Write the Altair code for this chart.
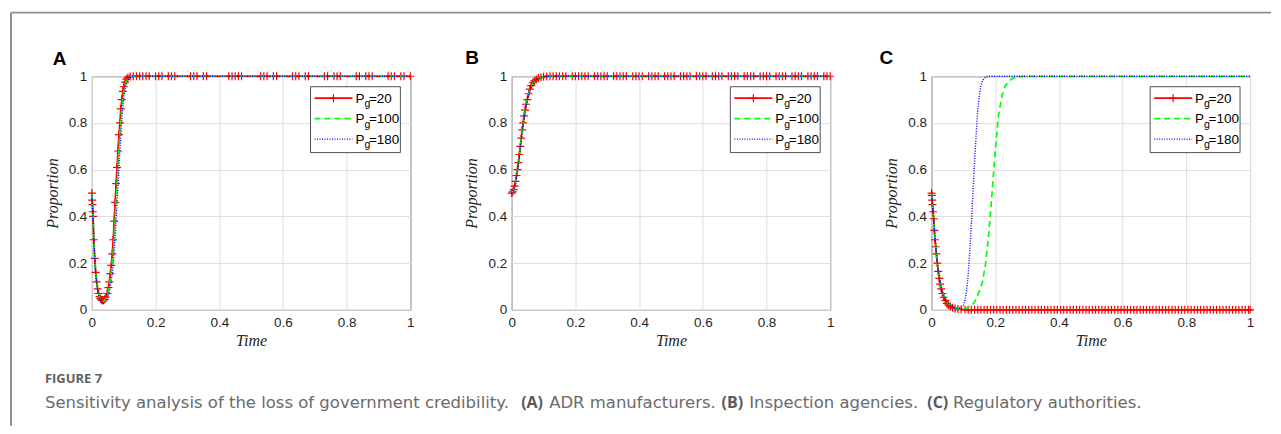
import altair as alt
import pandas as pd

# ---------------- data ----------------
TICKS = [0, 0.2, 0.4, 0.6, 0.8, 1]
LEGEND_LABELS = ["=20", "=100", "=180"]
PANEL_LETTERS = ["A", "B", "C"]
CAPTION_HEAD = "FIGURE 7"
CAPTION_PARTS = [
    ("Sensitivity analysis of the loss of government credibility.", "normal"),
    ("(A)", "bold"),
    ("ADR manufacturers.", "normal"),
    ("(B)", "bold"),
    ("Inspection agencies.", "normal"),
    ("(C)", "bold"),
    ("Regulatory authorities.", "normal"),
]

# Panel A
A_RED_T = [0, 0.001, 0.002, 0.003, 0.004, 0.006, 0.009, 0.012, 0.015, 0.018, 0.021, 0.024, 0.027,
           0.030, 0.033, 0.036, 0.040, 0.044, 0.048, 0.052, 0.055, 0.058, 0.061, 0.064, 0.067, 0.070,
           0.073, 0.076, 0.079, 0.082, 0.085, 0.088, 0.091, 0.094, 0.097, 0.100, 0.104, 0.108, 0.113,
           0.120, 0.130]
A_RED_Y = [0.50, 0.47, 0.45, 0.42, 0.40, 0.30, 0.22, 0.16, 0.12, 0.09, 0.07, 0.057, 0.048,
           0.043, 0.040, 0.041, 0.045, 0.055, 0.07, 0.095, 0.12, 0.155, 0.19, 0.24, 0.30, 0.38,
           0.46, 0.54, 0.61, 0.68, 0.75, 0.80, 0.86, 0.90, 0.935, 0.955, 0.975, 0.988, 0.995,
           0.999, 1.0]
A_RED_PLATEAU_T = [0.14, 0.15, 0.16, 0.17, 0.18, 0.20, 0.21, 0.22, 0.24, 0.25, 0.26, 0.31, 0.32,
                   0.33, 0.35, 0.36, 0.43, 0.44, 0.45, 0.46, 0.47, 0.53, 0.54, 0.55, 0.57, 0.58,
                   0.63, 0.64, 0.65, 0.67, 0.68, 0.73, 0.74, 0.76, 0.77, 0.78, 0.83, 0.84, 0.86,
                   0.87, 0.88, 0.93, 0.94, 0.95, 0.97, 0.98, 1.0]
A_RED_PLATEAU_V = 1.0
A_GREEN_T = [0, 0.004, 0.008, 0.012, 0.016, 0.020, 0.024, 0.028, 0.032, 0.036, 0.040, 0.044, 0.048,
             0.052, 0.056, 0.060, 0.064, 0.068, 0.072, 0.076, 0.080, 0.084, 0.088, 0.092, 0.096,
             0.100, 0.105, 0.110, 0.116, 0.124, 0.135, 1.0]
A_GREEN_Y = [0.50, 0.38, 0.25, 0.16, 0.11, 0.075, 0.055, 0.043, 0.037, 0.036, 0.039, 0.047, 0.06,
             0.08, 0.11, 0.15, 0.20, 0.27, 0.36, 0.46, 0.56, 0.66, 0.75, 0.83, 0.89,
             0.93, 0.965, 0.983, 0.993, 0.998, 1.0, 1.0]
A_BLUE_T = [0, 0.004, 0.008, 0.012, 0.016, 0.020, 0.024, 0.028, 0.032, 0.036, 0.040, 0.044, 0.048,
            0.052, 0.056, 0.060, 0.064, 0.068, 0.072, 0.076, 0.080, 0.084, 0.088, 0.092, 0.096,
            0.100, 0.105, 0.110, 0.116, 0.124, 0.135, 1.0]
A_BLUE_Y = [0.50, 0.37, 0.24, 0.15, 0.10, 0.068, 0.048, 0.036, 0.030, 0.028, 0.030, 0.036, 0.046,
            0.062, 0.085, 0.115, 0.155, 0.21, 0.29, 0.38, 0.48, 0.58, 0.68, 0.77, 0.85,
            0.91, 0.95, 0.975, 0.99, 0.997, 1.0, 1.0]

# Panel B
B_RED_T = [0, 0.003, 0.006, 0.009, 0.012, 0.015, 0.018, 0.021, 0.024, 0.027, 0.030, 0.033, 0.036,
           0.039, 0.042, 0.045, 0.049, 0.053, 0.057, 0.061, 0.066, 0.071, 0.077, 0.084, 0.092,
           0.100, 0.110, 0.120]
B_RED_Y = [0.50, 0.505, 0.515, 0.53, 0.55, 0.575, 0.60, 0.63, 0.665, 0.70, 0.735, 0.77, 0.80,
           0.83, 0.855, 0.88, 0.90, 0.925, 0.945, 0.96, 0.972, 0.98, 0.987, 0.992, 0.996,
           0.998, 0.999, 1.0]
B_RED_PLATEAU_T = [0.13, 0.14, 0.15, 0.16, 0.17, 0.19, 0.20, 0.21, 0.22, 0.23, 0.24, 0.26, 0.27,
                   0.28, 0.29, 0.30, 0.32, 0.33, 0.34, 0.35, 0.36, 0.38, 0.39, 0.40, 0.41, 0.43,
                   0.44, 0.45, 0.46, 0.48, 0.49, 0.50, 0.51, 0.53, 0.54, 0.55, 0.56, 0.58, 0.59,
                   0.60, 0.61, 0.63, 0.64, 0.65, 0.66, 0.68, 0.69, 0.70, 0.71, 0.73, 0.74, 0.75,
                   0.76, 0.78, 0.79, 0.80, 0.81, 0.83, 0.84, 0.85, 0.86, 0.88, 0.89, 0.90, 0.91,
                   0.93, 0.94, 0.95, 0.96, 0.98, 0.99, 1.0]
B_RED_PLATEAU_V = 1.0
B_GREEN_T = [0, 0.006, 0.012, 0.018, 0.024, 0.030, 0.036, 0.042, 0.048, 0.054, 0.060, 0.068,
             0.076, 0.086, 0.098, 0.115, 1.0]
B_GREEN_Y = [0.50, 0.51, 0.545, 0.595, 0.66, 0.73, 0.795, 0.85, 0.895, 0.928, 0.952, 0.972,
             0.985, 0.993, 0.997, 1.0, 1.0]
B_BLUE_T = [0, 0.006, 0.012, 0.018, 0.024, 0.030, 0.036, 0.042, 0.048, 0.054, 0.060, 0.068,
            0.076, 0.086, 0.098, 0.115, 1.0]
B_BLUE_Y = [0.50, 0.51, 0.54, 0.59, 0.655, 0.725, 0.79, 0.845, 0.89, 0.925, 0.95, 0.97,
            0.984, 0.992, 0.997, 1.0, 1.0]

# Panel C
C_RED_T = [0, 0.001, 0.002, 0.003, 0.005, 0.007, 0.009, 0.011, 0.013, 0.015, 0.018, 0.021, 0.024,
           0.027, 0.030, 0.034, 0.038, 0.043, 0.048, 0.053, 0.059, 0.066, 0.074, 0.083, 0.093,
           0.105]
C_RED_Y = [0.50, 0.49, 0.47, 0.45, 0.42, 0.39, 0.34, 0.30, 0.27, 0.24, 0.20, 0.165, 0.135,
           0.11, 0.09, 0.07, 0.054, 0.04, 0.028, 0.02, 0.014, 0.009, 0.006, 0.004, 0.002,
           0.001]
C_RED_PLATEAU_T = [0.115, 0.125, 0.135, 0.145, 0.155, 0.165, 0.175, 0.185, 0.195, 0.205, 0.215,
                   0.225, 0.235, 0.245, 0.255, 0.265, 0.275, 0.285, 0.295, 0.305, 0.315, 0.325,
                   0.335, 0.345, 0.355, 0.365, 0.375, 0.385, 0.395, 0.405, 0.415, 0.425, 0.435,
                   0.445, 0.455, 0.465, 0.475, 0.485, 0.495, 0.505, 0.515, 0.525, 0.535, 0.545,
                   0.555, 0.565, 0.575, 0.585, 0.595, 0.605, 0.615, 0.625, 0.635, 0.645, 0.655,
                   0.665, 0.675, 0.685, 0.695, 0.705, 0.715, 0.725, 0.735, 0.745, 0.755, 0.765,
                   0.775, 0.785, 0.795, 0.805, 0.815, 0.825, 0.835, 0.845, 0.855, 0.865, 0.875,
                   0.885, 0.895, 0.905, 0.915, 0.925, 0.935, 0.945, 0.955, 0.965, 0.975, 0.985,
                   0.995, 1.0]
C_RED_PLATEAU_V = 0.0
C_GREEN_T = [0, 0.01, 0.02, 0.03, 0.04, 0.05, 0.06, 0.07, 0.08, 0.09, 0.10, 0.11, 0.12, 0.13,
             0.14, 0.15, 0.16, 0.17, 0.18, 0.19, 0.20, 0.21, 0.22, 0.23, 0.24, 0.25, 0.26,
             0.275, 0.29, 1.0]
C_GREEN_Y = [0.50, 0.32, 0.18, 0.10, 0.055, 0.03, 0.017, 0.01, 0.006, 0.005, 0.006, 0.009,
             0.013, 0.025, 0.045, 0.08, 0.12, 0.20, 0.33, 0.50, 0.68, 0.83, 0.91, 0.955, 0.975,
             0.987, 0.993, 0.997, 1.0, 1.0]
C_BLUE_T = [0, 0.01, 0.02, 0.03, 0.04, 0.05, 0.06, 0.07, 0.08, 0.09, 0.10, 0.105, 0.11, 0.115,
            0.12, 0.125, 0.13, 0.135, 0.14, 0.145, 0.15, 0.155, 0.16, 0.165, 0.17, 0.18, 1.0]
C_BLUE_Y = [0.50, 0.32, 0.18, 0.10, 0.055, 0.03, 0.017, 0.01, 0.007, 0.008, 0.02, 0.04, 0.08,
            0.15, 0.25, 0.37, 0.50, 0.63, 0.75, 0.85, 0.92, 0.96, 0.98, 0.99, 0.997, 1.0, 1.0]

# ---------------- styling ----------------
RED, GREEN, BLUE = "#ff0000", "#00ff00", "#0000ff"
PLUS = "M-1,0H1M0,-1V1"
W, H = 319, 234
TICK_FONT = "Liberation Sans"
TITLE_FONT = "Liberation Serif"
CAP_FONT = "DejaVu Sans"
CAP_BOLD_FONT = "Open Sans"
ONE = pd.DataFrame({"k": [0]})


def axis(title, label_pad, title_pad):
    return alt.Axis(
        values=TICKS, format=".1~f", title=title,
        labelFlush=False, labelOverlap=False,
        grid=True, gridColor="#dedede", gridWidth=1, domain=False, ticks=False,
        labelFont=TICK_FONT, labelFontSize=13.5, labelColor="#1f1f1f", labelPadding=label_pad,
        titleFont=TITLE_FONT, titleFontStyle="italic", titleFontWeight="normal",
        titleFontSize=16, titleColor="#1f1f1f", titlePadding=title_pad,
    )


def xenc():
    return alt.X("t:Q", scale=alt.Scale(domain=[0, 1], nice=False, zero=False),
                 axis=axis("Time", 6, 3))


def yenc():
    return alt.Y("v:Q", scale=alt.Scale(domain=[0, 1], nice=False, zero=False),
                 axis=axis("Proportion", 5, 8))


def text_mark(txt, x, y, size, weight="normal", font=TICK_FONT, color="#000000",
              style="normal", align="left"):
    return alt.Chart(ONE).mark_text(
        text=txt, font=font, fontSize=size, fontWeight=weight, fontStyle=style,
        color=color, align=align, baseline="alphabetic"
    ).encode(x=alt.value(x), y=alt.value(y))


def panel(red_t, red_y, plat_t, plat_v, green_t, green_y, blue_t, blue_y,
          letter, letter_x, letter_y, extra=None):
    red_df = pd.DataFrame({"t": red_t + plat_t, "v": red_y + [plat_v] * len(plat_t)})
    green_df = pd.DataFrame({"t": green_t, "v": green_y})
    blue_df = pd.DataFrame({"t": blue_t, "v": blue_y})

    red_line = alt.Chart(red_df).mark_line(color=RED, strokeWidth=1.7).encode(x=xenc(), y=yenc())
    red_pts = alt.Chart(red_df).mark_point(
        shape=PLUS, color=RED, filled=False, size=64, strokeWidth=1.2, opacity=1
    ).encode(x="t:Q", y="v:Q")
    green_line = alt.Chart(green_df).mark_line(
        color=GREEN, strokeWidth=1.7, strokeDash=[6, 4]).encode(x="t:Q", y="v:Q")
    blue_line = alt.Chart(blue_df).mark_line(
        color=BLUE, strokeWidth=1.4, strokeDash=[1, 1.5]).encode(x="t:Q", y="v:Q")

    layers = [red_line, red_pts, green_line, blue_line]

    # legend (MATLAB-style box inside the axes)
    lx0, lx1, ly0, ly1 = 219, 309, 10.5, 76.5
    rows = [22, 42.5, 63]
    layers.append(alt.Chart(ONE).mark_rect(fill="white", stroke="#262626", strokeWidth=0.8).encode(
        x=alt.value(lx0), x2=alt.value(lx1), y=alt.value(ly0), y2=alt.value(ly1)))
    layers.append(alt.Chart(ONE).mark_rule(color=RED, strokeWidth=1.7).encode(
        x=alt.value(223), x2=alt.value(261), y=alt.value(rows[0])))
    layers.append(alt.Chart(ONE).mark_point(
        shape=PLUS, color=RED, filled=False, size=64, strokeWidth=1.2, opacity=1).encode(
        x=alt.value(242), y=alt.value(rows[0])))
    layers.append(alt.Chart(ONE).mark_rule(color=GREEN, strokeWidth=1.7, strokeDash=[6, 4]).encode(
        x=alt.value(223), x2=alt.value(261), y=alt.value(rows[1])))
    layers.append(alt.Chart(ONE).mark_rule(color=BLUE, strokeWidth=1.4, strokeDash=[1, 1.5]).encode(
        x=alt.value(223), x2=alt.value(261), y=alt.value(rows[2])))
    for r, lab in zip(rows, LEGEND_LABELS):
        layers.append(text_mark("P", 264, r + 4.5, 13.5))
        layers.append(text_mark("g", 273, r + 9, 10.5))
        layers.append(text_mark(lab, 277.5, r + 4.5, 13.5))

    layers.append(text_mark(letter, letter_x, letter_y, 19, weight="bold"))
    if extra:
        layers.extend(extra)
    return alt.layer(*layers).properties(width=W, height=H)


# frame lines and caption, positioned relative to panel A's plot area
FRAME = "#8f8f8f"
extra_a = [
    alt.Chart(ONE).mark_rule(color=FRAME, strokeWidth=2).encode(
        x=alt.value(-81), y=alt.value(-63.7), y2=alt.value(350)),
    alt.Chart(ONE).mark_rule(color=FRAME, strokeWidth=2).encode(
        x=alt.value(-81), x2=alt.value(1181), y=alt.value(-63.7)),
    text_mark(CAPTION_HEAD, -47, 307, 13, weight="bold", font=CAP_BOLD_FONT, color="#5f5f5f"),
]
CAPTION_X = [-47, 430, 458, 630.7, 658.3, 836.7, 862.5]
for (txt, wt), cx in zip(CAPTION_PARTS, CAPTION_X):
    if wt == "bold":
        extra_a.append(text_mark(txt, cx, 332, 16, weight="bold", font=CAP_BOLD_FONT,
                                 color="#5a5a5a"))
    else:
        extra_a.append(text_mark(txt, cx, 332, 16.5, font=CAP_FONT, color="#6a6a6a"))

pa = panel(A_RED_T, A_RED_Y, A_RED_PLATEAU_T, A_RED_PLATEAU_V, A_GREEN_T, A_GREEN_Y,
           A_BLUE_T, A_BLUE_Y, PANEL_LETTERS[0], -39.3, -11.4, extra_a)
pb = panel(B_RED_T, B_RED_Y, B_RED_PLATEAU_T, B_RED_PLATEAU_V, B_GREEN_T, B_GREEN_Y,
           B_BLUE_T, B_BLUE_Y, PANEL_LETTERS[1], -46.5, -12)
pc = panel(C_RED_T, C_RED_Y, C_RED_PLATEAU_T, C_RED_PLATEAU_V, C_GREEN_T, C_GREEN_Y,
           C_BLUE_T, C_BLUE_Y, PANEL_LETTERS[2], -52, -12)

chart = alt.hconcat(pa, pb, pc, spacing=101.5, bounds="flush").properties(
    padding={"left": 1, "top": 2, "right": 0, "bottom": 0},
    background="white",
).configure_view(
    stroke="#4a4a4a", strokeWidth=1
)

chart.save("out.html", embed_options={"renderer": "svg", "actions": False})
